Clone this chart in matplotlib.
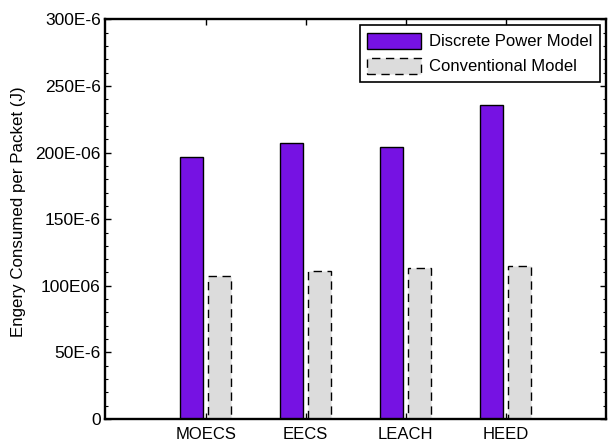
import matplotlib
matplotlib.use("Agg")
import matplotlib.pyplot as plt
import numpy as np
from matplotlib.ticker import MultipleLocator

plt.rcParams['font.family'] = ['Liberation Sans', 'DejaVu Sans']

categories = ['MOECS', 'EECS', 'LEACH', 'HEED']
discrete = [197e-6, 207.5e-6, 204e-6, 235.5e-6]
conventional = [107.5e-6, 111e-6, 113.5e-6, 115e-6]
y_ticks = [0, 50e-6, 100e-6, 150e-6, 200e-6, 250e-6, 300e-6]
y_tick_labels = ['0', '50E-6', '100E06', '150E-6', '200E-06', '250E-6', '300E-6']

fig = plt.figure(figsize=(6.08, 4.41), dpi=100)
ax = fig.add_axes([0.1735, 0.05, 0.823, 0.9058])

x = np.arange(1, len(categories) + 1)
w = 0.23
ax.bar(x - 0.145, discrete, w, color='#7612e3', edgecolor='black', linewidth=1,
       label='Discrete Power Model')
ax.bar(x + 0.135, conventional, w, color='#dcdcdc', edgecolor='black', linewidth=1,
       linestyle=(0, (6, 4)), label='Conventional Model')

ax.set_xlim(0, 5)
ax.set_ylim(0, 300e-6)
ax.set_xticks(x)
ax.set_xticklabels(categories, fontsize=12)
ax.set_yticks(y_ticks)
ax.set_yticklabels(y_tick_labels, fontsize=12.5)
ax.yaxis.set_minor_locator(MultipleLocator(10e-6))
ax.tick_params(axis='both', which='both', direction='in', top=True, right=True)
ax.tick_params(axis='both', which='major', length=4, width=1)
ax.tick_params(axis='y', which='minor', length=2, width=0.8)
ax.tick_params(axis='x', pad=6)
for s in ax.spines.values():
    s.set_linewidth(1.7)

ax.set_ylabel('Engery Consumed per Packet (J)', fontsize=12.2)
ax.yaxis.set_label_coords(-0.158, 0.52)

leg = ax.legend(loc='upper right', fontsize=12, frameon=True, fancybox=False,
                edgecolor='black', framealpha=1, borderaxespad=0.35,
                handlelength=3.2, handleheight=1.1, borderpad=0.45,
                labelspacing=0.5, handletextpad=0.5)
leg.get_frame().set_linewidth(1.2)

fig.savefig('out.png', dpi=100)
